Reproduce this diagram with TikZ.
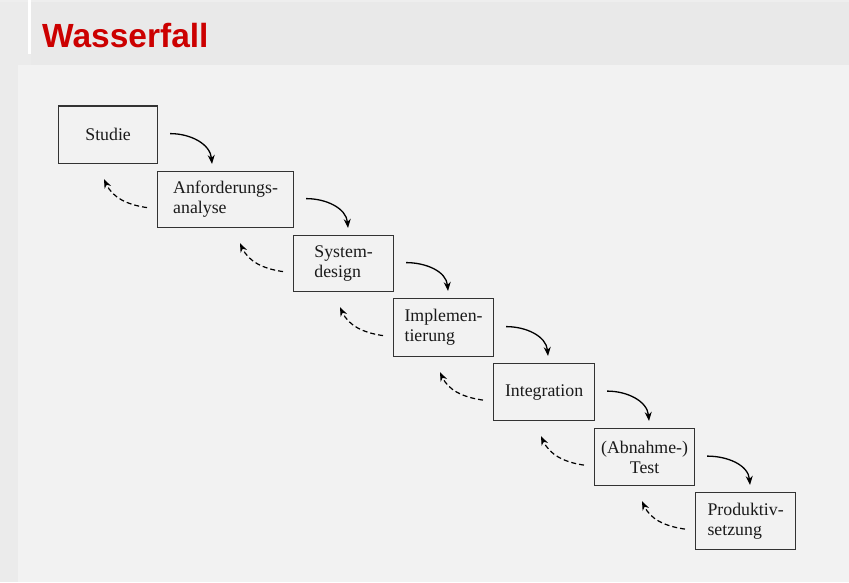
\documentclass[tikz,border=0pt]{standalone}
\usepackage{fontspec}
\setmainfont{Liberation Serif}
\newfontfamily\titlefont{Liberation Sans}
\usetikzlibrary{arrows.meta,calc}
\definecolor{hdr}{HTML}{E9E9E9}
\definecolor{sidebg}{HTML}{EBEBEB}
\definecolor{topbg}{HTML}{EEEEEE}
\definecolor{content}{HTML}{F2F2F2}
\definecolor{boxc}{HTML}{333333}
\definecolor{txt}{HTML}{1A1A1A}
\definecolor{titlered}{HTML}{CC0000}
\begin{document}
\begin{tikzpicture}[x=1pt,y=-1pt,
  stagebox/.style={draw=boxc, line width=1.2pt, inner sep=0pt, anchor=north west,
    font=\fontsize{17.8}{20}\selectfont, text=txt, align=left},
  fwd/.style={line width=1.3pt, black, -{Stealth[length=9pt,width=7pt]}, out=0, in=95},
  back/.style={line width=1.2pt, black, dash pattern=on 5pt off 3pt,
    -{Stealth[length=9pt,width=7pt]}, out=172, in=-65}]
\useasboundingbox (0,0) rectangle (849,582);
\fill[sidebg] (0,0) rectangle (849,582);
\fill[topbg] (0,0) rectangle (849,2);
\fill[hdr] (31,2) rectangle (849,65);
\fill[white] (28,0) rectangle (31,54);
\fill[content] (18,65) rectangle (849,582);
\node[anchor=base west, inner sep=0pt, text=titlered,
  font=\titlefont\bfseries\fontsize{33.5}{36}\selectfont] (title) at (42,47.5) {Wasserfall};

\node[stagebox, minimum width=99pt, minimum height=58pt] (b1) at (58,105) {Studie};
\draw[boxc, line width=1.2pt] ([yshift=-1pt]b1.north west) -- ([yshift=-1pt]b1.north east);
\node[stagebox, minimum width=136pt, minimum height=56pt] (b2) at (157,171) {Anforderungs-\\analyse};
\node[stagebox, minimum width=100pt, minimum height=56pt] (b3) at (293,235) {System-\\design};
\node[stagebox, minimum width=100pt, minimum height=58pt] (b4) at (393,298) {Implemen-\\tierung};
\node[stagebox, minimum width=101pt, minimum height=57pt] (b5) at (493,363) {Integration};
\node[stagebox, minimum width=100pt, minimum height=57pt, align=center] (b6) at (594,428) {(Abnahme-)\\Test};
\node[stagebox, minimum width=100pt, minimum height=57pt] (b7) at (695,492) {Produktiv-\\setzung};

\foreach \a/\b in {b1/b2,b2/b3,b3/b4,b4/b5,b5/b6,b6/b7}{
  \draw[fwd] ($(\a.east)+(12,-1)$) to ($(\b.north west)+(55,-7)$);
  \draw[back] ($(\b.west)+(-10,8)$) to ($(\a.south -| \b.west)+(-53,15)$);
}
\end{tikzpicture}
\end{document}
